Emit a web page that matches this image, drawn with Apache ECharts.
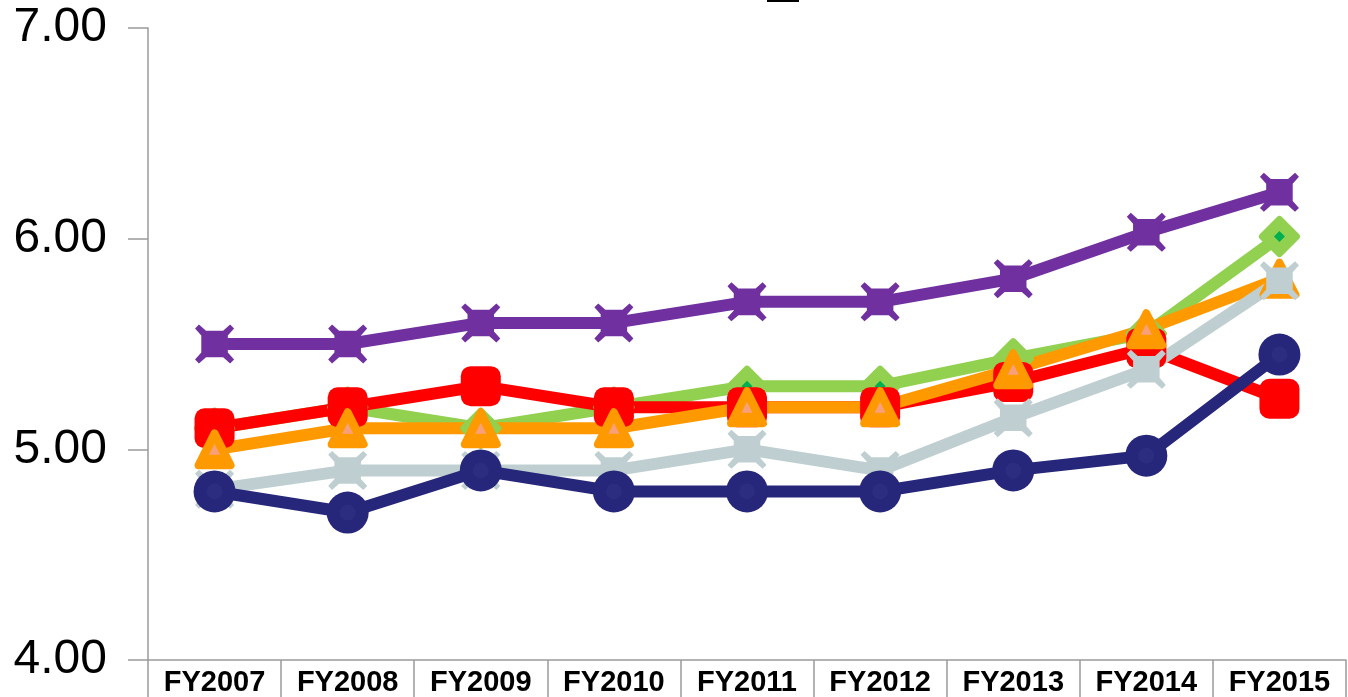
<!DOCTYPE html>
<html>
<head>
<meta charset="utf-8">
<script src="https://cdn.jsdelivr.net/npm/echarts@6/dist/echarts.min.js"></script>
<style>
html,body{margin:0;padding:0;background:#fff;}
#chart{width:1348px;height:697px;}
</style>
</head>
<body>
<div id="chart"></div>
<script>
const categories = ['FY2007','FY2008','FY2009','FY2010','FY2011','FY2012','FY2013','FY2014','FY2015'];
const yTicks = [4, 5, 6, 7];
const greenValues  = [5.10, 5.20, 5.10, 5.20, 5.30, 5.30, 5.43, 5.55, 6.01];
const redValues    = [5.10, 5.20, 5.30, 5.20, 5.20, 5.20, 5.32, 5.48, 5.24];
const orangeValues = [5.00, 5.10, 5.10, 5.10, 5.20, 5.20, 5.38, 5.57, 5.81];
const grayValues   = [4.81, 4.90, 4.90, 4.90, 5.00, 4.90, 5.15, 5.38, 5.80];
const navyValues   = [4.80, 4.70, 4.90, 4.80, 4.80, 4.80, 4.90, 4.97, 5.45];
const purpleValues = [5.50, 5.50, 5.60, 5.60, 5.70, 5.70, 5.81, 6.03, 6.22];

const xPath = 'path://M1,0 L2.8,1.6 L7.2,1.6 L9,0 L10,1 L8.4,2.8 L8.4,7.2 L10,9 L9,10 L7.2,8.4 L2.8,8.4 L1,10 L0,9 L1.6,7.2 L1.6,2.8 L0,1 Z';

function lineSeries(name, data, color, symbol, size, extra) {
  return Object.assign({
    name: name,
    type: 'line',
    data: data,
    symbol: symbol,
    symbolSize: size,
    showAllSymbol: true,
    clip: false,
    lineStyle: { color: color, width: 12, cap: 'round', join: 'round' },
    itemStyle: { color: color, borderColor: color, borderWidth: 0, opacity: 1 },
    emphasis: { disabled: true },
    animation: false
  }, extra || {});
}
function innerSeries(data, color, symbol, size) {
  return {
    type: 'line',
    data: data,
    symbol: symbol,
    symbolSize: size,
    showSymbol: true,
    showAllSymbol: true,
    clip: false,
    lineStyle: { width: 0, opacity: 0 },
    itemStyle: { color: color, borderWidth: 0, opacity: 1 },
    silent: true,
    emphasis: { disabled: true },
    animation: false
  };
}

const chart = echarts.init(document.getElementById('chart'));
chart.setOption({
  backgroundColor: '#ffffff',
  animation: false,
  grid: { left: 148, right: 2, top: 28, bottom: 37, containLabel: false },
  xAxis: {
    type: 'category',
    data: categories,
    boundaryGap: true,
    axisLine: { show: true, lineStyle: { color: '#9a9a9a', width: 1.5 } },
    axisTick: { show: true, alignWithLabel: false, inside: false, length: 40, lineStyle: { color: '#9a9a9a', width: 1.5 } },
    axisLabel: { color: '#000', fontFamily: 'Liberation Sans, Arial, sans-serif', fontWeight: 'bold', fontSize: 29, margin: 8 },
    splitLine: { show: false }
  },
  yAxis: {
    type: 'value',
    min: yTicks[0],
    max: yTicks[yTicks.length - 1],
    interval: 1,
    axisLine: { show: true, lineStyle: { color: '#9a9a9a', width: 1.5 } },
    axisTick: { show: true, inside: false, length: 20, lineStyle: { color: '#9a9a9a', width: 1.5 } },
    axisLabel: { color: '#000', fontFamily: 'Liberation Sans, Arial, sans-serif', fontSize: 48, margin: 41,
      formatter: function (v) { return v.toFixed(2); } },
    splitLine: { show: false }
  },
  graphic: [
    { type: 'rect', shape: { x: 767, y: 0, width: 32, height: 2 }, style: { fill: '#000' } }
  ],
  series: [
    lineSeries('Green', greenValues, '#92d050', 'diamond', 34,
      { itemStyle: { color: '#92d050', borderColor: '#92d050', borderWidth: 7, borderJoin: 'round', opacity: 1 } }),
    innerSeries(greenValues, '#00b050', 'diamond', 11),
    lineSeries('Red', redValues, '#ff0000', 'roundRect', 40),
    lineSeries('Orange', orangeValues, '#ff9900', 'triangle', 32,
      { itemStyle: { color: '#ff9900', borderColor: '#ff9900', borderWidth: 8, borderJoin: 'round', opacity: 1 } }),
    innerSeries(orangeValues, '#f8a07c', 'triangle', 11),
    lineSeries('Gray', grayValues, '#bfcfd1', xPath, 39),
    lineSeries('Navy', navyValues, '#26267a', 'circle', 42),
    innerSeries(navyValues, '#2c2c80', 'circle', 16),
    lineSeries('Purple', purpleValues, '#7030a0', xPath, 39)
  ]
});
</script>
</body>
</html>
